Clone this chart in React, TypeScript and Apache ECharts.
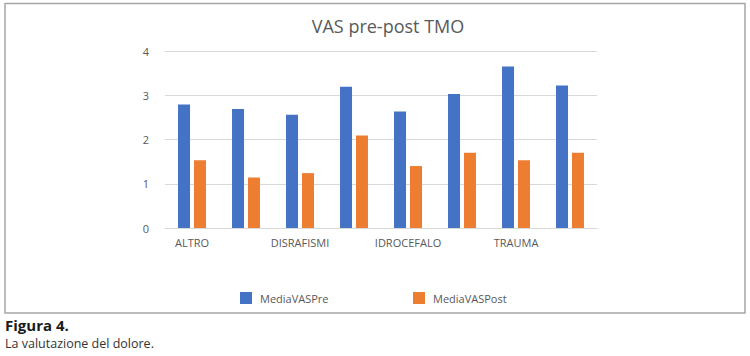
import React, { useEffect, useRef } from "react";
import * as echarts from "echarts";

const categories = ["ALTRO", "CRANIOSTENOSI", "DISRAFISMI", "EPILESSIA", "IDROCEFALO", "ONCOLOGIA", "TRAUMA", "TUMORI"];
const mediaVASPre = [2.79, 2.69, 2.56, 3.19, 2.63, 3.03, 3.65, 3.22];
const mediaVASPost = [1.53, 1.14, 1.24, 2.09, 1.4, 1.7, 1.53, 1.7];
const seriesNames = ["MediaVASPre", "MediaVASPost"];
const chartTitle = "VAS pre-post TMO";
const captionTitle = "Figura 4.";
const captionText = "La valutazione del dolore.";

const FONT = "Open Sans";
const GREY = "#595959";

export default function App() {
  const ref = useRef<HTMLDivElement>(null);
  useEffect(() => {
    document.body.style.margin = "0";
    const chart = echarts.init(ref.current!, null, { renderer: "svg" });
    const legendText = { fontFamily: FONT, fontSize: 11, color: GREY, padding: [0, 0, 0, 3] };
    chart.setOption({
      animation: false,
      backgroundColor: "#ffffff",
      title: {
        text: chartTitle,
        left: 383,
        textAlign: "center",
        top: 12,
        textStyle: { fontFamily: FONT, fontSize: 18, fontWeight: "normal", color: GREY },
      },
      legend: [
        {
          data: [seriesNames[0]],
          left: 240,
          top: 292,
          padding: 0,
          itemWidth: 12,
          itemHeight: 12,
          icon: "rect",
          textStyle: legendText,
        },
        {
          data: [seriesNames[1]],
          left: 413,
          top: 292,
          padding: 0,
          itemWidth: 12,
          itemHeight: 12,
          icon: "rect",
          textStyle: legendText,
        },
      ],
      grid: { left: 165, right: 153, top: 51, bottom: 128, containLabel: false },
      xAxis: {
        type: "category",
        data: categories,
        axisLine: { lineStyle: { color: "#d9d9d9", width: 1 } },
        axisTick: { show: false },
        axisLabel: { interval: 1, fontFamily: FONT, fontSize: 11, color: GREY, margin: 9 },
      },
      yAxis: {
        type: "value",
        min: 0,
        max: 4,
        interval: 1,
        axisLine: { show: false },
        axisTick: { show: false },
        splitLine: { lineStyle: { color: "#d9d9d9", width: 1 } },
        axisLabel: { fontFamily: FONT, fontSize: 11, color: GREY, margin: 16 },
      },
      series: [
        {
          name: seriesNames[0],
          type: "bar",
          data: mediaVASPre,
          barWidth: 12,
          barGap: "33%",
          itemStyle: { color: "#4472C4" },
        },
        {
          name: seriesNames[1],
          type: "bar",
          data: mediaVASPost,
          barWidth: 12,
          itemStyle: { color: "#ED7D31" },
        },
      ],
      graphic: [
        {
          type: "rect",
          shape: { x: 5, y: 3.5, width: 740, height: 309.5 },
          style: { fill: "none", stroke: "#a6a6a6", lineWidth: 1.5 },
          silent: true,
        },
        {
          type: "text",
          x: 5,
          y: 317,
          style: { text: captionTitle, fontFamily: FONT, fontSize: 15, fontWeight: "bold", fill: "#1a1a1a" },
        },
        {
          type: "text",
          x: 5,
          y: 337,
          style: { text: captionText, fontFamily: FONT, fontSize: 12.5, fill: "#333333" },
        },
      ],
    });
    return () => chart.dispose();
  }, []);
  return <div ref={ref} style={{ width: 750, height: 356, position: "absolute", left: 0, top: 0 }} />;
}
